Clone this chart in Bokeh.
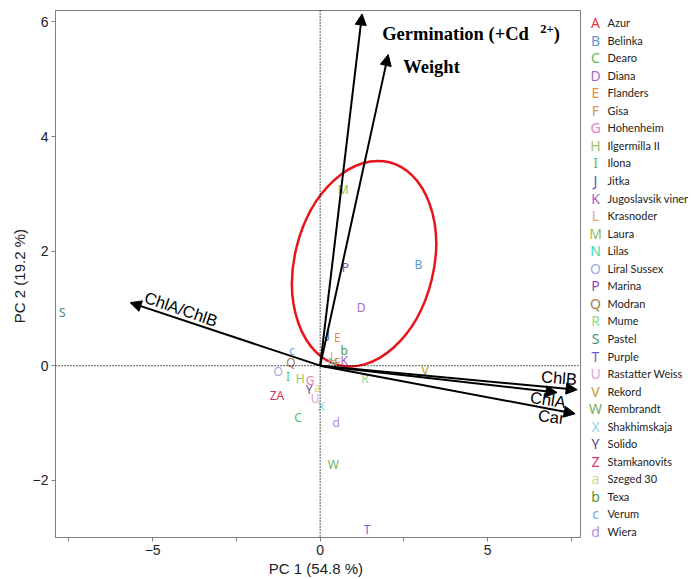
from bokeh.plotting import figure
from bokeh.models import Range1d, FixedTicker, Span, Arrow, NormalHead, ColumnDataSource
from bokeh.layouts import row
from bokeh.core.properties import value
from bokeh.embed import file_html
from bokeh.resources import INLINE

# ---- data ----
letters = ["A", "B", "C", "D", "E", "F", "G", "H", "I", "J", "K", "L", "M", "N", "O",
           "P", "Q", "R", "S", "T", "U", "V", "W", "X", "Y", "Z", "a", "b", "c", "d"]
names = ["Azur", "Belinka", "Dearo", "Diana", "Flanders", "Gisa", "Hohenheim",
         "Ilgermilla II", "Ilona", "Jitka", "Jugoslavsik viner", "Krasnoder", "Laura",
         "Lilas", "Liral Sussex", "Marina", "Modran", "Mume", "Pastel", "Purple",
         "Rastatter Weiss", "Rekord", "Rembrandt", "Shakhimskaja", "Solido",
         "Stamkanovits", "Szeged 30", "Texa", "Verum", "Wiera"]
pc1 = [-1.19, 2.93, -0.66, 1.22, 0.51, 0.51, -0.30, -0.60, -0.96, 0.24, 0.72, 0.39, 0.69,
       0.36, -1.25, 0.75, -0.87, 1.34, -7.70, 1.40, -0.15, 3.13, 0.39, 0.03, -0.33, -1.40,
       -0.09, 0.72, -0.84, 0.48]
pc2 = [-0.52, 1.76, -0.91, 1.01, 0.49, 0.05, -0.26, -0.23, -0.19, 0.54, 0.09, 0.16, 3.07,
       0.05, -0.10, 1.71, 0.05, -0.23, 0.92, -2.86, -0.58, -0.09, -1.73, -0.72, -0.42, -0.52,
       -0.38, 0.26, 0.26, -1.00]
colors = ["#e8344a", "#5b9bd5", "#5cb85c", "#a66bbe", "#f0883c", "#d9925a", "#e87dbb",
          "#9bc45a", "#5cc66a", "#3a5fbf", "#a35bc4", "#eea07a", "#8cc063", "#3fd7a6",
          "#a8a8dc", "#8a4bb0", "#a87a4a", "#8ad88a", "#4a8a86", "#6b5fd6", "#dba5d8",
          "#c8962e", "#73b05a", "#8cd4ee", "#5b3f8c", "#d8336f", "#cfd690", "#4c9a3a",
          "#6aaee0", "#b58ae6"]

load_names = ["Germination (+Cd 2+)", "Weight", "ChlA/ChlB", "ChlB", "ChlA", "Car"]
load_x = [1.25, 2.03, -5.67, 7.67, 7.07, 7.61]
load_y = [6.14, 5.43, 1.10, -0.42, -0.47, -0.84]

x_major_ticks = [-5, 0, 5]
x_minor_ticks = [-7.5, -2.5, 2.5, 7.5]
y_major_ticks = [-2, 0, 2, 4, 6]

# ellipse (screen-unit annotation)
ell_x, ell_y = 1.31, 1.78

AX_FONT = "Liberation Sans"

p = figure(width=585, height=579, output_backend="svg", toolbar_location=None,
           x_range=Range1d(-7.9, 7.77), y_range=Range1d(-3.0, 6.2),
           min_border_left=55, min_border_right=5, min_border_top=10, min_border_bottom=42,
           background_fill_color="white", border_fill_color="white")
p.grid.visible = False
p.outline_line_color = "#7f7f7f"
p.outline_line_width = 1

p.xaxis.ticker = FixedTicker(ticks=x_major_ticks, minor_ticks=x_minor_ticks)
p.yaxis.ticker = FixedTicker(ticks=y_major_ticks, minor_ticks=[])
p.xaxis.axis_label = "PC 1  (54.8 %)"
p.yaxis.axis_label = "PC 2  (19.2 %)"
for ax in (p.xaxis, p.yaxis):
    ax.axis_line_color = "#7f7f7f"
    ax.major_tick_line_color = "#7f7f7f"
    ax.minor_tick_line_color = "#7f7f7f"
    ax.major_tick_in = 0
    ax.major_tick_out = 4
    ax.minor_tick_in = 0
    ax.minor_tick_out = 4
    ax.major_label_text_font = AX_FONT
    ax.major_label_text_font_size = "14px"
    ax.major_label_text_color = "#222222"
    ax.major_label_standoff = 3
    ax.axis_label_text_font = AX_FONT
    ax.axis_label_text_font_size = "15px"
    ax.axis_label_text_font_style = "normal"
    ax.axis_label_text_color = "#222222"
    ax.axis_label_standoff = 2

# zero lines
p.add_layout(Span(location=0, dimension="width", line_color="black", line_width=1.3, line_dash="1 2"))
p.add_layout(Span(location=0, dimension="height", line_color="black", line_width=1.3, line_dash="1 2"))

# ellipse
p.ellipse(x=[ell_x], y=[ell_y], width=139, height=209, angle=-0.244,
          width_units="screen", height_units="screen",
          fill_color=None, line_color="#e8141a", line_width=2.5)

# loading arrows
lsrc = ColumnDataSource(dict(x=load_x, y=load_y))
p.add_layout(Arrow(end=NormalHead(size=11, fill_color="black", line_color="black"),
                   x_start=0, y_start=0, x_end="x", y_end="y", source=lsrc,
                   line_color="black", line_width=2))

# sample letters
src = ColumnDataSource(dict(x=pc1, y=pc2, t=letters, c=colors))
p.text(x="x", y="y", text="t", text_color="c", source=src,
       text_font=value("Noto Sans"), text_font_size="12px",
       text_align="center", text_baseline="middle")

# arrow labels
serif = value("Liberation Serif")
p.text(x=[1.85], y=[5.79], text=["Germination (+Cd"], text_font=serif, text_font_size="18.5px",
       text_font_style="bold", text_align="left", text_baseline="middle", text_color="black")
p.text(x=[6.57], y=[5.88], text=["2+"], text_font=serif, text_font_size="12.5px",
       text_font_style="bold", text_align="left", text_baseline="middle", text_color="black")
p.text(x=[6.97], y=[5.79], text=[")"], text_font=serif, text_font_size="18.5px",
       text_font_style="bold", text_align="left", text_baseline="middle", text_color="black")
p.text(x=[2.48], y=[5.22], text=["Weight"], text_font=serif, text_font_size="18.5px",
       text_font_style="bold", text_align="left", text_baseline="middle", text_color="black")

sans = value(AX_FONT)
p.text(x=[-4.15], y=[0.99], text=[load_names[2]], angle=-0.33, text_font=sans,
       text_font_size="16.5px", text_align="center", text_baseline="middle", text_color="black")
p.text(x=[7.13], y=[-0.21], text=[load_names[3]], angle=-0.08, text_font=sans,
       text_font_size="16.5px", text_align="center", text_baseline="middle", text_color="black")
p.text(x=[6.80], y=[-0.59], text=[load_names[4]], angle=-0.15, text_font=sans,
       text_font_size="16.5px", text_align="center", text_baseline="middle", text_color="black")
p.text(x=[6.90], y=[-0.89], text=[load_names[5]], angle=-0.12, text_font=sans,
       text_font_size="16.5px", text_align="center", text_baseline="middle", text_color="black")

# ---- legend panel (frame aligned with main frame: 10..537 px) ----
n = len(letters)
rows_idx = list(range(n))
lg = figure(width=106, height=579, output_backend="svg", toolbar_location=None,
            x_range=Range1d(0, 106), y_range=Range1d(29.34, -0.684),
            x_axis_type=None, y_axis_type=None,
            min_border_left=0, min_border_right=0, min_border_top=10, min_border_bottom=42,
            background_fill_color="white", border_fill_color="white")
lg.grid.visible = False
lg.outline_line_color = None
lsrc2 = ColumnDataSource(dict(y=rows_idx, t=letters, c=colors, nm=names))
lg.text(x=10, y="y", text="t", text_color="c", source=lsrc2,
        text_font=value("Noto Sans"), text_font_size="14px",
        text_align="center", text_baseline="middle")
lg.text(x=22, y="y", text="nm", text_color="#222222", source=lsrc2,
        text_font=value("Lato"), text_font_size="11px",
        text_align="left", text_baseline="middle")

layout = row(p, lg)
open("out.html", "w").write(file_html(layout, INLINE))
